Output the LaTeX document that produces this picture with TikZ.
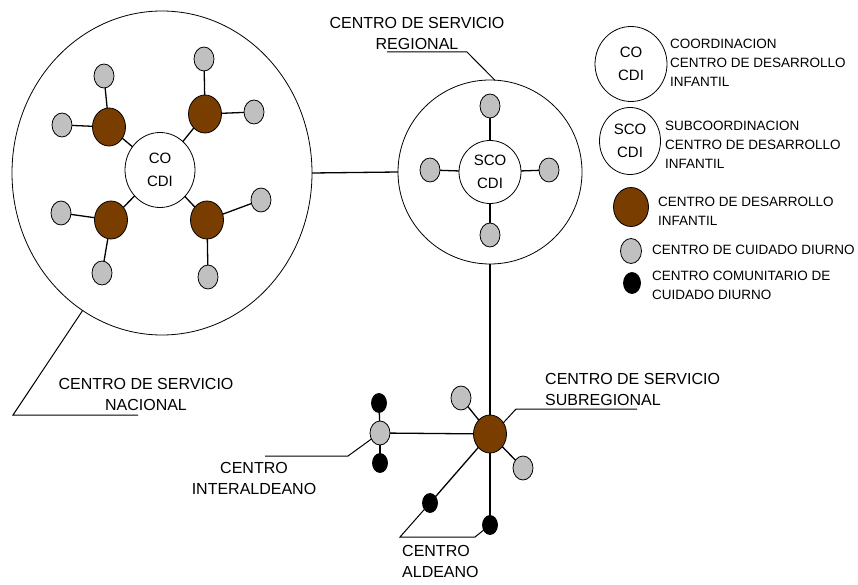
\documentclass[tikz,border=0pt]{standalone}
\usepackage{fontspec}
\setmainfont{Liberation Sans}
\usetikzlibrary{shapes.geometric}
\definecolor{brownc}{RGB}{122,61,0}
\definecolor{grayc}{RGB}{192,192,192}
\tikzset{
  base/.style={ellipse, draw, inner sep=0pt, outer sep=0pt, line width=0.8pt},
  bigc/.style={base, minimum width=300pt, minimum height=324pt},
  regc/.style={base, minimum width=184pt, minimum height=184pt},
  coc/.style={base, fill=white, align=center, font=\fontsize{15}{23}\selectfont},
  devc/.style={base, fill=brownc, minimum width=33pt, minimum height=38pt},
  dayc/.style={base, fill=grayc, minimum width=20pt, minimum height=24pt},
  comc/.style={base, fill=black, minimum width=15pt, minimum height=19pt},
  conn/.style={line width=1.3pt},
  call/.style={line width=1pt},
  lbl/.style={inner sep=0pt, font=\fontsize{16}{21}\selectfont},
  leg/.style={inner sep=0pt, anchor=west, align=left, font=\fontsize{13.5}{19}\selectfont}
}
\begin{document}
\begin{tikzpicture}[x=1pt,y=-1pt]
\useasboundingbox (0,0) rectangle (858,585);
% national service centre
\node[bigc] (big) at (162,173) {};
\node[coc, minimum width=70pt, minimum height=75pt] (co) at (160,170) {CO\\CDI};
\node[devc] (d1) at (109,127) {};
\node[devc] (d2) at (205,114) {};
\node[devc] (d3) at (111,220) {};
\node[devc] (d4) at (207,220) {};
\node[dayc] (g1a) at (104,76) {};
\node[dayc] (g1b) at (62,125) {};
\node[dayc] (g2a) at (204,59) {};
\node[dayc] (g2b) at (254,112) {};
\node[dayc] (g3a) at (61,213) {};
\node[dayc] (g3b) at (102,273) {};
\node[dayc] (g4a) at (261,200) {};
\node[dayc] (g4b) at (208,277) {};
\foreach \d in {d1,d2,d3,d4} \draw[conn] (co) -- (\d);
\draw[conn] (d1) -- (g1a); \draw[conn] (d1) -- (g1b);
\draw[conn] (d2) -- (g2a); \draw[conn] (d2) -- (g2b);
\draw[conn] (d3) -- (g3a); \draw[conn] (d3) -- (g3b);
\draw[conn] (d4) -- (g4a); \draw[conn] (d4) -- (g4b);
% regional service centre
\node[regc] (reg) at (490,172) {};
\node[coc, minimum width=62pt, minimum height=63pt] (sco) at (490,172) {SCO\\CDI};
\node[dayc] (r1) at (490,106) {};
\node[dayc] (r2) at (430,170) {};
\node[dayc] (r3) at (549,170) {};
\node[dayc] (r4) at (490,235) {};
\foreach \r in {r1,r2,r3,r4} \draw[conn] (sco) -- (\r);
\draw[conn] (big.east) -- (reg.west);
% subregional
\node[devc] (sub) at (490,434) {};
\node[dayc] (s1) at (461,398) {};
\node[dayc] (s2) at (523,468) {};
\node[dayc] (inter) at (380,433) {};
\node[comc] (ib1) at (379,403) {};
\node[comc] (ib2) at (380,463) {};
\node[comc] (a1) at (430,503) {};
\node[comc] (a2) at (490,525) {};
\draw[conn] (reg.south) -- (sub.north);
\draw[conn] (sub) -- (s1); \draw[conn] (sub) -- (s2);
\draw[conn] (sub) -- (inter);
\draw[conn] (inter) -- (ib1); \draw[conn] (inter) -- (ib2);
\draw[conn] (sub) -- (a1); \draw[conn] (sub) -- (a2);
% callouts
\coordinate (cn1) at (13,415); \coordinate (cn2) at (138,415);
\draw[call] (big.240) -- (cn1) -- (cn2);
\coordinate (cr1) at (467,52); \coordinate (cr2) at (387,52);
\draw[call] (reg.87) -- (cr1) -- (cr2);
\coordinate (cs1) at (516,409); \coordinate (cs2) at (637,409);
\draw[call] (sub.40) -- (cs1) -- (cs2);
\coordinate (ci1) at (348,456); \coordinate (ci2) at (265,456);
\draw[call] (inter.215) -- (ci1) -- (ci2);
\coordinate (ca1) at (400,537); \coordinate (ca2) at (475,537);
\draw[call] (a1) -- (ca1) -- (ca2) -- (a2);
% labels
\node[lbl, align=center] (tnac) at (146,394) {CENTRO DE SERVICIO\\NACIONAL};
\node[lbl, align=center] (treg) at (417,33) {CENTRO DE SERVICIO\\REGIONAL};
\node[lbl, align=left, anchor=west] (tsub) at (545,389) {CENTRO DE SERVICIO\\SUBREGIONAL};
\node[lbl, align=center] (tint) at (254,478) {CENTRO\\INTERALDEANO};
\node[lbl, align=left, anchor=west] (tald) at (402,561) {CENTRO\\ALDEANO};
% legend
\node[coc, minimum width=72pt, minimum height=75pt] (lco) at (631,64) {CO\\CDI};
\node[coc, minimum width=61pt, minimum height=67pt] (lsco) at (630,141) {SCO\\CDI};
\node[devc, minimum width=35pt, minimum height=39pt] (ld) at (631,207) {};
\node[dayc, minimum width=21pt, minimum height=25pt] (lg) at (631,251) {};
\node[comc, minimum width=17pt, minimum height=21pt] (lb) at (632,283) {};
\node[leg] (tlco) at (670,63) {COORDINACION\\CENTRO DE DESARROLLO\\INFANTIL};
\node[leg] (tlsco) at (665,145) {SUBCOORDINACION\\CENTRO DE DESARROLLO\\INFANTIL};
\node[leg] (tld) at (658,211) {CENTRO DE DESARROLLO\\INFANTIL};
\node[leg] (tlg) at (652,250) {CENTRO DE CUIDADO DIURNO};
\node[leg] (tlb) at (652,285) {CENTRO COMUNITARIO DE\\CUIDADO DIURNO};
\end{tikzpicture}
\end{document}
